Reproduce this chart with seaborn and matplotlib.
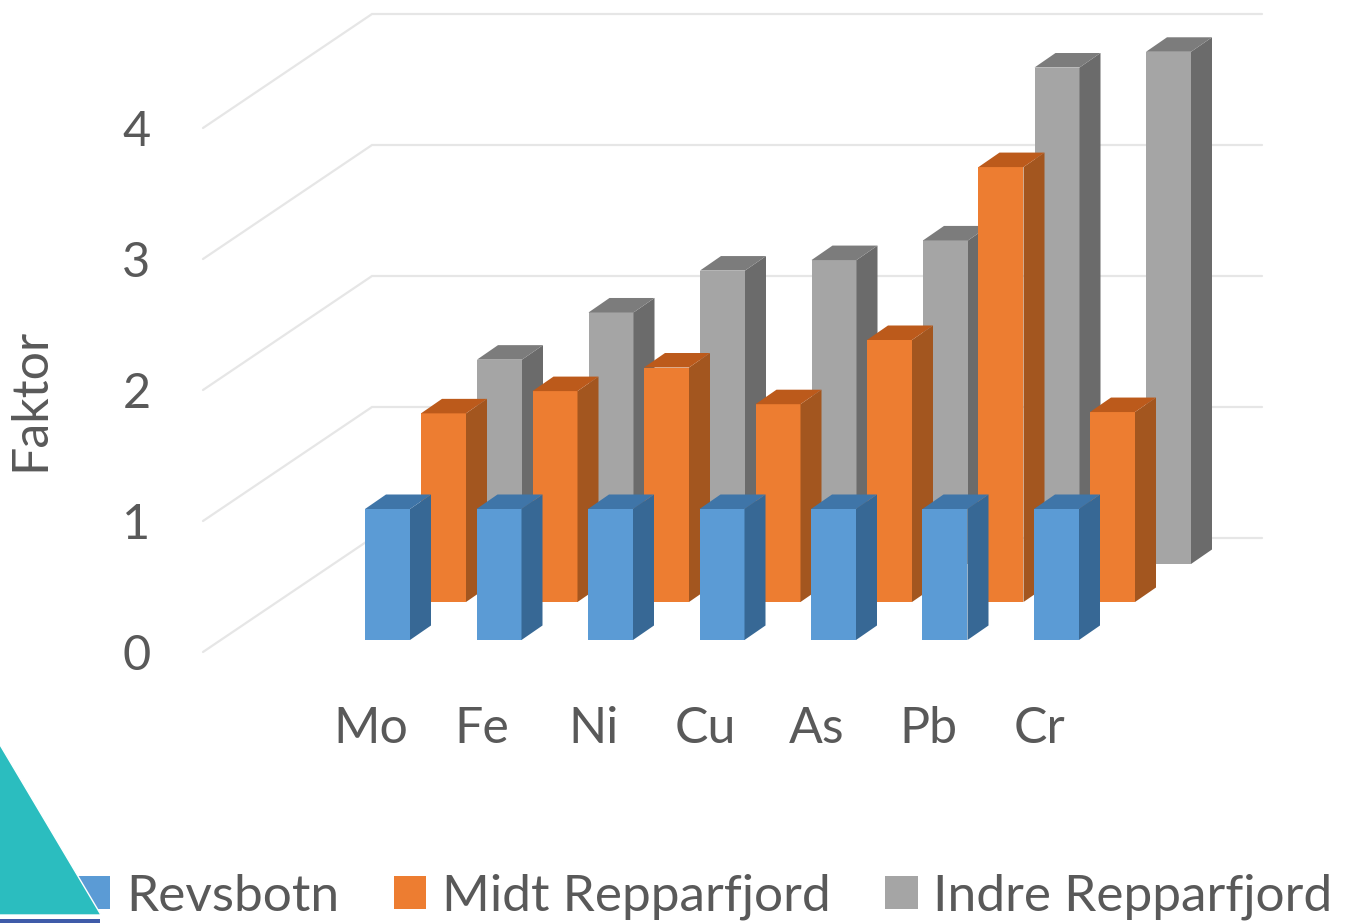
import numpy as np
import pandas as pd
import matplotlib
matplotlib.use("Agg")
import matplotlib.pyplot as plt
import matplotlib.transforms as mtrans
from matplotlib.patches import Patch, Polygon
import seaborn as sns

elements = ["Mo", "Fe", "Ni", "Cu", "As", "Pb", "Cr"]
revsbotn = [1, 1, 1, 1, 1, 1, 1]
midt = [1.44, 1.61, 1.79, 1.51, 2.0, 3.32, 1.45]
indre = [1.56, 1.92, 2.24, 2.32, 2.47, 3.79, 3.91]
series_names = ["Revsbotn", "Midt Repparfjord", "Indre Repparfjord"]
y_ticks = [0, 1, 2, 3, 4]

W, H = 1356, 923
GREY_TEXT = "#595959"
GRID = "#E6E6E6"

# face, top, side for each series
colors = [("#5B9BD5", "#3F75A8", "#376895"),
          ("#ED7D31", "#BC5A1B", "#A3561F"),
          ("#A5A5A5", "#7C7C7C", "#6B6B6B")]

sns.set_theme(style="white")
plt.rcParams["font.family"] = ["Lato", "DejaVu Sans"]

fig = plt.figure(figsize=(W / 100, H / 100), dpi=100, facecolor="white")
ax_left, ax_bottom_px = 165, 680
ax = fig.add_axes([ax_left / W, 1 - ax_bottom_px / H, 1 - ax_left / W, ax_bottom_px / H])
ax.patch.set_alpha(0)

# scale of the picture: one category = 111.5 px, one unit of Faktor = 131 px
px_x = 111.5
px_y = 131.0
x0_px, y0_px = 387.5, 640
xlim = ((ax_left - x0_px) / px_x, (W - x0_px) / px_x)
ylim = ((y0_px - ax_bottom_px) / px_y, y0_px / px_y)

# depth steps
row_dx, row_dy = 56 / px_x, 38 / px_y
side_dx, side_dy = 21 / px_x, 14.5 / px_y
bar_w = 45 / px_x

# walls: the floor/back wall lines, then the diagonals coming forward
wall_back_x = (372 - x0_px) / px_x
wall_front_x = (203 - x0_px) / px_x
wall_right_x = (1262 - x0_px) / px_x
wall_back_y = (y0_px - 538) / px_y
wall_front_y = (y0_px - 652) / px_y
for t in y_ticks:
    ax.plot([wall_front_x, wall_back_x, wall_right_x],
            [t + wall_front_y, t + wall_back_y, t + wall_back_y],
            color=GRID, lw=1.6, zorder=1, solid_joinstyle="miter")

# back row first so the front rows paint over it
series = [revsbotn, midt, indre]
for row in [2, 1, 0]:
    df = pd.DataFrame({"pos": np.arange(len(elements)) + row * row_dx, "val": series[row]})
    face, top, side = colors[row]
    n_before = len(ax.patches)
    sns.barplot(data=df, x="pos", y="val", native_scale=True, color=face, saturation=1,
                width=bar_w, bottom=row * row_dy, linewidth=0, ax=ax, zorder=5 - row)
    for bar in list(ax.patches[n_before:]):
        xl, xr = bar.get_x(), bar.get_x() + bar.get_width()
        yb, yt = bar.get_y(), bar.get_y() + bar.get_height()
        z = bar.get_zorder()
        ax.add_patch(Polygon([(xr, yb), (xr + side_dx, yb + side_dy), (xr + side_dx, yt + side_dy), (xr, yt)],
                             closed=True, fc=side, ec="none", zorder=z))
        ax.add_patch(Polygon([(xl, yt), (xl + side_dx, yt + side_dy), (xr + side_dx, yt + side_dy), (xr, yt)],
                             closed=True, fc=top, ec="none", zorder=z))

ax.set_xlim(xlim)
ax.set_ylim(ylim)
sns.despine(ax=ax, left=True, bottom=True, right=True, top=True)

ax.set_yticks(y_ticks)
ax.set_yticklabels([str(t) for t in y_ticks])
ax.set_xticks(np.arange(len(elements)))
ax.set_xticklabels(elements)
ax.tick_params(axis="y", length=0, pad=10.5, labelsize=35, labelcolor=GREY_TEXT)
ax.tick_params(axis="x", length=0, pad=19, labelsize=36, labelcolor=GREY_TEXT)

# tick labels sit on the front edge of the floor, not on the bars
shift_y = mtrans.ScaledTranslation(0, -12 / 100, fig.dpi_scale_trans)
for lab in ax.get_yticklabels():
    lab.set_transform(lab.get_transform() + shift_y)
shift_x = mtrans.ScaledTranslation(-17 / 100, 0, fig.dpi_scale_trans)
for lab in ax.get_xticklabels():
    lab.set_transform(lab.get_transform() + shift_x)

ax.set_xlabel("")
ax.set_ylabel("Faktor", fontsize=36, color=GREY_TEXT, va="center")
ax.yaxis.set_label_coords(30 / W, 1 - 399 / H, transform=fig.transFigure)

handles = [Patch(fc=c[0], ec="none") for c in colors]
leg = fig.legend(handles, series_names, ncol=3, loc="center left", bbox_to_anchor=(78 / W, 1 - 897 / H),
                 frameon=False, fontsize=37, labelcolor=GREY_TEXT, borderpad=0, borderaxespad=0,
                 handlelength=0.63, handleheight=0.62, handletextpad=0.3, columnspacing=1.07)
leg.set_zorder(2)

# slide decoration in the lower left corner
fig.add_artist(Polygon([(-0.01, 1 - 722 / H), (101 / W, 1 - 915 / H), (-0.01, 1 - 915 / H)], closed=True,
                       transform=fig.transFigure, fc="#2BBDBF", ec="white", lw=1, zorder=5))
fig.add_artist(Polygon([(0, 1 - 919 / H), (100 / W, 1 - 919 / H), (100 / W, 0), (0, 0)], closed=True,
                       transform=fig.transFigure, fc="#3F5BA9", ec="none", zorder=5))

fig.savefig("out.png", dpi=100)
